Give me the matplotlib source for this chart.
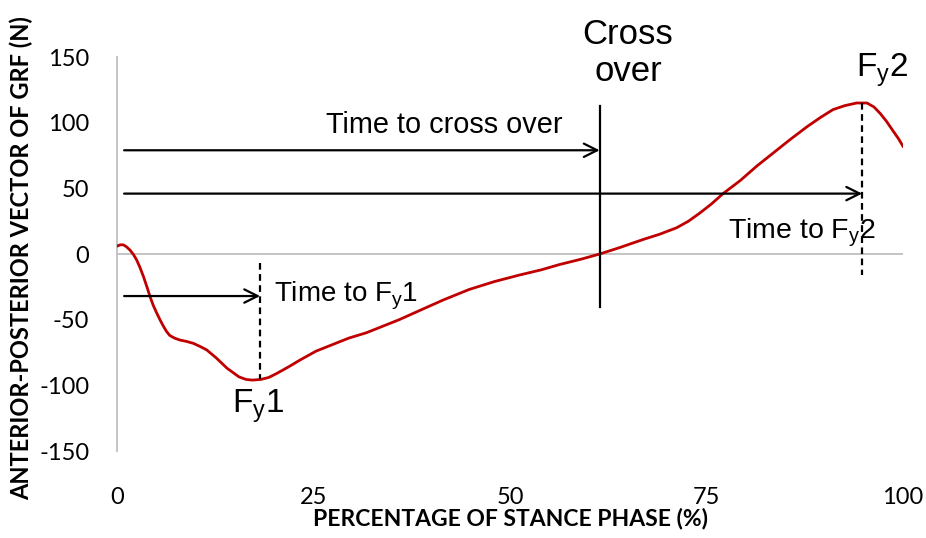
import numpy as np
import matplotlib.pyplot as plt

plt.rcParams['axes.unicode_minus'] = False

# stance phase (%) and anterior-posterior GRF (N)
stance_pct = [0, 0.4, 0.8, 1.2, 1.65, 2.1, 2.5, 2.9, 3.35, 3.8, 4.2, 4.6, 5.05, 5.5, 5.9,
              6.3, 6.7, 7.3, 8.0, 8.8, 9.7, 10.6, 11.4, 12.6, 14.0, 15.5, 16.4, 17.2,
              18.3, 19.3, 20.3, 21.8, 23.2, 25.3, 27.4, 29.5, 31.7, 33.8, 35.9, 38.5,
              41.5, 44.8, 48.0, 51.2, 54.0, 56.3, 59.0, 61.4, 64.0, 66.9, 69.0, 71.2,
              72.7, 74.1, 75.6, 77.1, 79.3, 81.4, 83.5, 85.6, 87.8, 89.5, 91.1, 92.6,
              94.1, 95.4, 96.3, 97.1, 97.9, 98.7, 99.4, 100]
grf = [6, 7, 7, 5.5, 3, -0.5, -4.6, -10, -17, -25, -32.5, -39, -45, -50.5, -55,
       -59, -62, -64, -65.5, -66.5, -68, -70.5, -73, -79, -87, -93.5, -95.5, -96,
       -95.5, -94, -91, -86, -81, -74, -69, -64, -60, -55, -50, -43,
       -35, -27, -21, -16, -12, -8, -4, 0, 5, 11, 15, 20,
       25, 31, 38, 46, 56, 67, 77, 87, 97, 104, 110, 113,
       115, 115, 112, 107, 101, 94, 88, 82]

fy1_x, fy1_y = 18.2, -95
cross_x = 61.4
fy2_x, fy2_y = 94.8, 115

xticks = [0, 25, 50, 75, 100]
yticks = [-150, -100, -50, 0, 50, 100, 150]

fig = plt.figure(figsize=(9.26, 5.38), dpi=100)
ax = fig.add_axes([0.1264, 0.1617, 0.8488, 0.7323])
ax.set_xlim(0, 100)
ax.set_ylim(-150, 150)

for s in ['top', 'right', 'bottom']:
    ax.spines[s].set_visible(False)
ax.spines['left'].set_color('#bfbfbf')
ax.spines['left'].set_linewidth(1.3)
ax.axhline(0, color='#bfbfbf', lw=1.3, zorder=1)

ax.set_xticks(xticks)
ax.set_yticks(yticks)
ax.tick_params(length=0, labelsize=17)
ax.tick_params(axis='y', pad=20)
ax.tick_params(axis='x', pad=26)
for lab in ax.get_xticklabels() + ax.get_yticklabels():
    lab.set_family('Lato')

ax.set_xlabel('PERCENTAGE OF STANCE PHASE (%)', fontsize=16.5, fontweight='bold',
              family='Lato', labelpad=0)
ax.set_ylabel('ANTERIOR-POSTERIOR VECTOR OF GRF (N)', fontsize=17, fontweight='bold',
              family='Lato', labelpad=6)
ax.yaxis.set_label_coords(-0.107, 0.49)

ax.plot(stance_pct, grf, color='#c00000', lw=2, zorder=3)

# markers for the peaks and cross over
ax.plot([fy1_x, fy1_x], [-7, fy1_y], color='black', lw=1.6, ls=(0, (3, 2)), zorder=4)
ax.plot([fy2_x, fy2_x], [fy2_y, -16], color='black', lw=1.6, ls=(0, (3, 2)), zorder=4)
ax.plot([cross_x, cross_x], [113, -40], color='black', lw=1.6, zorder=4)

arrow = dict(arrowstyle='->', color='black', lw=1.6, mutation_scale=24, shrinkA=0, shrinkB=0)
ax.annotate('', xy=(fy1_x, -32), xytext=(0.9, -32), arrowprops=arrow)
ax.annotate('', xy=(cross_x, 79), xytext=(0.9, 79), arrowprops=arrow)
ax.annotate('', xy=(fy2_x, 46), xytext=(0.9, 46), arrowprops=arrow)

tf = dict(family='Liberation Sans', color='black')
ax.text(20, -32, 'Time to F$\\mathregular{_y}$1', fontsize=20, va='center', ha='left', **tf)
ax.text(56.7, 98, 'Time to cross over', fontsize=20.8, va='center', ha='right', **tf)
ax.text(87.1, 16, 'Time to F$\\mathregular{_y}$2', fontsize=20.5, va='center', ha='center', **tf)
ax.text(18.0, -116, 'F$\\mathregular{_y}$1', fontsize=24, va='center', ha='center', **tf)
ax.text(97.3, 140, 'F$\\mathregular{_y}$2', fontsize=24, va='center', ha='center', **tf)
ax.text(65, 153, 'Cross\nover', fontsize=25, va='center', ha='center', linespacing=1.15,
        **tf)

fig.savefig('out.png', dpi=100)
